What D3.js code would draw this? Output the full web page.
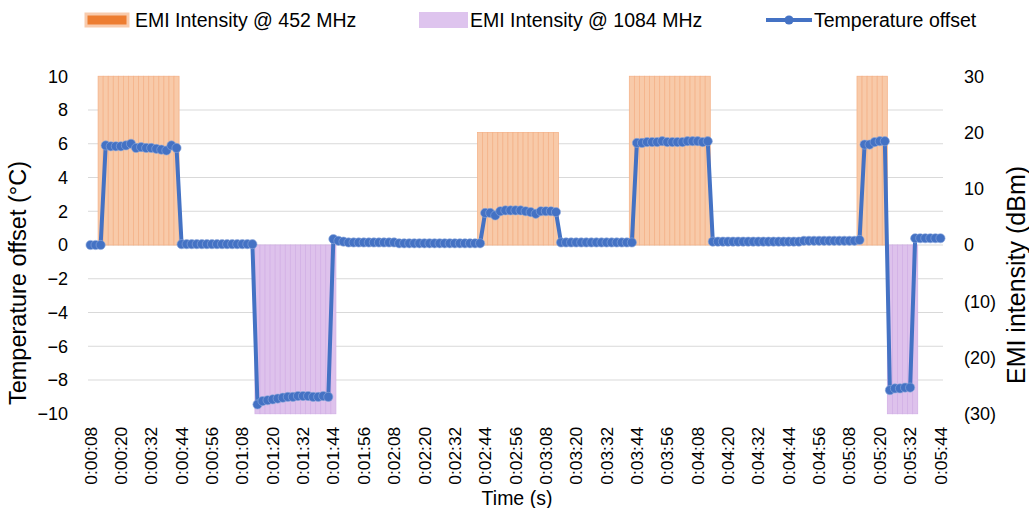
<!DOCTYPE html>
<html>
<head>
<meta charset="utf-8">
<script src="https://cdn.jsdelivr.net/npm/d3@7"></script>
<style>
  html, body { margin: 0; padding: 0; background: #ffffff; }
  svg { display: block; font-family: "Liberation Sans", Arial, sans-serif; }
</style>
</head>
<body>
<svg id="chart" width="1029" height="508"></svg>
<script>
// ---------------- DATA ----------------
// Category axis: samples every 2 s from 0:00:08 to 0:05:44 (169 samples)
const categories = d3.range(169).map(i => {
  const s = 8 + 2 * i;
  const m = Math.floor(s / 60), ss = s % 60;
  return `0:${String(m).padStart(2, "0")}:${String(ss).padStart(2, "0")}`;
});

const xTickLabels = ["0:00:08","0:00:20","0:00:32","0:00:44","0:00:56","0:01:08","0:01:20",
  "0:01:32","0:01:44","0:01:56","0:02:08","0:02:20","0:02:32","0:02:44","0:02:56","0:03:08",
  "0:03:20","0:03:32","0:03:44","0:03:56","0:04:08","0:04:20","0:04:32","0:04:44","0:04:56",
  "0:05:08","0:05:20","0:05:32","0:05:44"];

const leftTicks = [-10, -8, -6, -4, -2, 0, 2, 4, 6, 8, 10];
const rightTicks = [-30, -20, -10, 0, 10, 20, 30];

// Temperature offset (°C), one value per category
const temperatureOffset = [
  0, 0, 0,
  5.9, 5.85, 5.85, 5.85, 5.9, 6.0, 5.75, 5.8, 5.75, 5.75, 5.7, 5.65, 5.6, 5.9, 5.75,
  0.05, 0.05, 0.05, 0.05, 0.05, 0.05, 0.05, 0.05, 0.05, 0.05, 0.05, 0.05, 0.05, 0.05, 0.05,
  -9.45, -9.25, -9.2, -9.15, -9.1, -9.05, -9.0, -9.0, -8.95, -8.95, -8.95, -9.0, -9.0, -8.95, -9.0,
  0.35,
  0.25, 0.2,
  0.15, 0.15, 0.15, 0.15, 0.15, 0.15, 0.15, 0.15, 0.15, 0.15,
  0.1, 0.1, 0.1, 0.1, 0.1, 0.1, 0.1, 0.1, 0.1, 0.1, 0.1, 0.1, 0.1, 0.1, 0.1, 0.1, 0.1,
  1.9, 1.9, 1.75, 2.0, 2.05, 2.05, 2.05, 2.05, 2.0, 1.95, 1.85, 2.0, 2.0, 2.0, 1.95,
  0.15, 0.15, 0.15, 0.15, 0.15, 0.15, 0.15, 0.15, 0.15, 0.15, 0.15, 0.15, 0.15, 0.15, 0.15,
  6.05, 6.05, 6.1, 6.1, 6.1, 6.15, 6.1, 6.1, 6.1, 6.1, 6.15, 6.15, 6.15, 6.1, 6.15,
  0.2, 0.2, 0.2, 0.2, 0.2, 0.2, 0.2, 0.2, 0.2, 0.2, 0.2, 0.2, 0.2, 0.2, 0.2, 0.2, 0.2, 0.2,
  0.25, 0.25, 0.25, 0.25, 0.25, 0.25, 0.25, 0.25, 0.25, 0.25, 0.25,
  0.3,
  5.95, 5.95, 6.1, 6.15, 6.15,
  -8.6, -8.5, -8.5, -8.45, -8.45,
  0.4, 0.4, 0.4, 0.4, 0.4, 0.4
];

// EMI intensity @ 452 MHz (dBm), one value per category (null = off)
const emi452 = [
  null, null,
  30, 30, 30, 30, 30, 30, 30, 30, 30, 30, 30, 30, 30, 30, 30, 30,
  null, null, null, null, null, null, null, null, null, null,
  null, null, null, null, null, null, null, null, null, null,
  null, null, null, null, null, null, null, null, null, null,
  null, null, null, null, null, null, null, null, null, null,
  null, null, null, null, null, null, null, null, null, null,
  null, null, null, null, null, null, null, null, null,
  20, 20, 20, 20, 20, 20, 20, 20, 20, 20, 20, 20, 20, 20, 20, 20,
  null, null, null, null, null, null, null, null, null, null, null, null, null, null,
  30, 30, 30, 30, 30, 30, 30, 30, 30, 30, 30, 30, 30, 30, 30, 30,
  null, null, null, null, null, null, null, null, null, null,
  null, null, null, null, null, null, null, null, null, null,
  null, null, null, null, null, null, null, null, null,
  30, 30, 30, 30, 30, 30,
  null, null, null, null, null, null, null, null, null, null, null
];

// EMI intensity @ 1084 MHz (dBm), one value per category (null = off)
const emi1084 = [
  null, null, null, null, null, null, null, null, null, null,
  null, null, null, null, null, null, null, null, null, null,
  null, null, null, null, null, null, null, null, null, null,
  null, null, null,
  -30, -30, -30, -30, -30, -30, -30, -30, -30, -30, -30, -30, -30, -30, -30, -30,
  null, null, null, null, null, null, null, null, null, null,
  null, null, null, null, null, null, null, null, null, null,
  null, null, null, null, null, null, null, null, null, null,
  null, null, null, null, null, null, null, null, null, null,
  null, null, null, null, null, null, null, null, null, null,
  null, null, null, null, null, null, null, null, null, null,
  null, null, null, null, null, null, null, null, null, null,
  null, null, null, null, null, null, null, null, null, null,
  null, null, null, null, null, null, null, null, null, null,
  null, null, null, null, null, null, null, null, null, null,
  null, null, null, null, null, null, null, null, null,
  -30, -30, -30, -30, -30, -30,
  null, null, null, null, null
];

// ---------------- CHART ----------------
const svg = d3.select("#chart");
const plot = { left: 88, right: 943, top: 76.25, bottom: 413.75 };
const FONT = "Liberation Sans, Arial, sans-serif";
const TEXT = "#000000";

const x = d3.scaleBand().domain(categories).range([plot.left, plot.right]).padding(0);
const yL = d3.scaleLinear().domain([-10, 10]).range([plot.bottom, plot.top]);
const yR = d3.scaleLinear().domain([-30, 30]).range([plot.bottom, plot.top]);

// gridlines
svg.append("g").selectAll("line")
  .data(leftTicks.filter(t => t > -10 && t < 10))
  .join("line")
  .attr("x1", plot.left).attr("x2", plot.right)
  .attr("y1", d => yL(d)).attr("y2", d => yL(d))
  .attr("stroke", "#d9d9d9").attr("stroke-width", 1);

// EMI bars
function drawBars(values, fill, stroke) {
  const data = categories.map((c, i) => ({ c, v: values[i] })).filter(d => d.v !== null);
  svg.append("g").selectAll("rect")
    .data(data)
    .join("rect")
    .attr("x", d => x(d.c))
    .attr("width", x.bandwidth())
    .attr("y", d => Math.min(yR(d.v), yR(0)))
    .attr("height", d => Math.abs(yR(d.v) - yR(0)))
    .attr("fill", fill)
    .attr("stroke", stroke)
    .attr("stroke-width", 0.8);
}
drawBars(emi452, "#f8caa9", "#f4b38a");
drawBars(emi1084, "#dec2ec", "#d3b1e6");

// temperature line
const lineData = categories.map((c, i) => ({ c, v: temperatureOffset[i] }));
const cx = d => x(d.c) + x.bandwidth() / 2;
svg.append("path")
  .datum(lineData)
  .attr("fill", "none")
  .attr("stroke", "#4472c4")
  .attr("stroke-width", 4)
  .attr("stroke-linejoin", "round")
  .attr("d", d3.line().x(cx).y(d => yL(d.v)));

svg.append("g").selectAll("circle")
  .data(lineData)
  .join("circle")
  .attr("cx", cx)
  .attr("cy", d => yL(d.v))
  .attr("r", 4.6)
  .attr("fill", "#4472c4")
  .attr("stroke", "#8fa9dc")
  .attr("stroke-width", 0.6);

// axes
const axL = svg.append("g").attr("transform", `translate(${plot.left},0)`)
  .call(d3.axisLeft(yL).tickValues(leftTicks).tickSize(0).tickPadding(20));
const axR = svg.append("g").attr("transform", `translate(${plot.right},0)`)
  .call(d3.axisRight(yR).tickValues(rightTicks).tickSize(0).tickPadding(21)
    .tickFormat(d => d < 0 ? `(${-d})` : `${d}`));
const axB = svg.append("g").attr("transform", `translate(0,${plot.bottom})`)
  .call(d3.axisBottom(x).tickValues(xTickLabels).tickSize(0));

[axL, axR].forEach(a => {
  a.select(".domain").remove();
  a.selectAll("text").attr("font-family", FONT).attr("font-size", 18).attr("fill", TEXT);
});
axB.select(".domain").remove();
axB.selectAll("text")
  .attr("font-family", FONT).attr("font-size", 17.4).attr("fill", TEXT)
  .attr("transform", "rotate(-90)")
  .attr("text-anchor", "end")
  .attr("x", -13)
  .attr("y", 0)
  .attr("dy", "0.35em");

// axis titles
svg.append("text")
  .attr("transform", "translate(26,283) rotate(-90)")
  .attr("text-anchor", "middle")
  .attr("font-family", FONT).attr("font-size", 23.5).attr("fill", TEXT)
  .text("Temperature offset (°C)");
svg.append("text")
  .attr("transform", "translate(1025,275) rotate(-90)")
  .attr("text-anchor", "middle")
  .attr("font-family", FONT).attr("font-size", 25).attr("fill", TEXT)
  .text("EMI intensity (dBm)");
svg.append("text")
  .attr("x", 517).attr("y", 505)
  .attr("text-anchor", "middle")
  .attr("font-family", FONT).attr("font-size", 19.5).attr("fill", TEXT)
  .text("Time (s)");

// legend
const lg = svg.append("g");
lg.append("rect").attr("x", 86).attr("y", 14).attr("width", 42).attr("height", 12)
  .attr("fill", "#ed7d31").attr("stroke", "#f8cbad").attr("stroke-width", 3);
lg.append("text").attr("x", 135).attr("y", 27)
  .attr("font-family", FONT).attr("font-size", 19.5).attr("fill", TEXT)
  .text("EMI Intensity @ 452 MHz");
lg.append("rect").attr("x", 419).attr("y", 12).attr("width", 49).attr("height", 16)
  .attr("fill", "#dec4ee");
lg.append("text").attr("x", 470).attr("y", 27)
  .attr("font-family", FONT).attr("font-size", 19.5).attr("fill", TEXT)
  .text("EMI Intensity @ 1084 MHz");
lg.append("line").attr("x1", 766).attr("x2", 812).attr("y1", 20).attr("y2", 20)
  .attr("stroke", "#4472c4").attr("stroke-width", 4);
lg.append("circle").attr("cx", 789).attr("cy", 20).attr("r", 4.6)
  .attr("fill", "#4472c4");
lg.append("text").attr("x", 814).attr("y", 27)
  .attr("font-family", FONT).attr("font-size", 19.5).attr("fill", TEXT)
  .text("Temperature offset");
</script>
</body>
</html>
